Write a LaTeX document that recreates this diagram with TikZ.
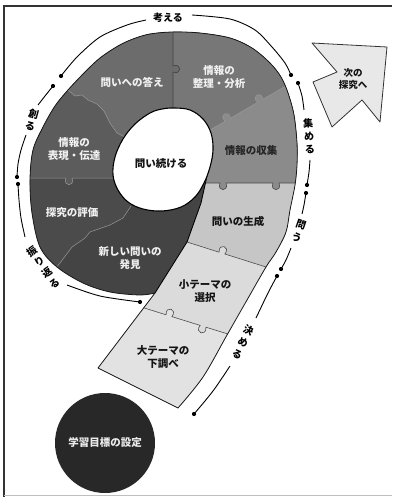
\documentclass[tikz,border=0pt]{standalone}
\usepackage{fontspec}
\setmainfont{Noto Sans CJK JP}
\usetikzlibrary{calc}
\definecolor{cPone}{HTML}{6C6C6C}
\definecolor{cPtwo}{HTML}{777777}
\definecolor{cPthree}{HTML}{8B8B8B}
\definecolor{cPseven}{HTML}{5C5C5C}
\definecolor{cPeight}{HTML}{4B4B4B}
\definecolor{cPnine}{HTML}{444444}
\definecolor{cTone}{HTML}{C6C6C6}
\definecolor{cTtwo}{HTML}{DBDBDB}
\definecolor{cTthree}{HTML}{E2E2E2}
\definecolor{cCirc}{HTML}{282828}
\definecolor{cArrow}{HTML}{E8E8E8}
\definecolor{framec}{HTML}{333333}
\def\outerpath{(98,368) -- (155,293) -- plot[smooth,tension=0.55] coordinates {(155,293) (140,295) (110,292) (83,283) (57,267) (40,247) (32,213) (30,180) (33,150) (43,127) (55,106) (68,90) (85,72) (100,58) (118,46) (133,39) (150,34) (173,32) (200,33) (230,38) (252,48) (270,63) (281,77) (288,93) (294,115) (297,143) (297,165) (295,185) (290,210) (286,232) (276,252) (266,267) (247,300) (227,335) (203,377) (178,408)} -- cycle}
\def\holepath{plot[smooth cycle,tension=0.6] coordinates {(175,108) (190,110) (203,119) (211,133) (213,150) (210,167) (204,183) (195,197) (181,207) (162,211) (143,209) (128,202) (118,190) (113,175) (115,157) (123,139) (135,124) (150,113) (162,109)}}
\def\Bone{-- (173,118) -- (173,72) to[knobR] (173,66) -- (173,0)}
\def\Btwo{-- (210,130) -- (225.2,121.2) to[knobL] (230.4,118.2) -- (257.7,102.3) to[knobL] (262.9,99.3) -- (284,87) -- (320,66)}
\def\Bthree{-- (400,183) -- (279,183) to[knobL] (273,183) -- (226,183) to[knobL] (220,183) -- (205,183)}
\def\Bfour{-- (187,242) -- (219.1,252.2) to[knobL] (224.9,254.0) -- (266,267) -- (305,279)}
\def\Bfive{-- (125,302) -- (166.1,314.8) to[knobL] (171.9,316.6) -- (200.1,325.4) to[knobR] (205.9,327.2) -- (228,334) -- (265,345)}
\def\Bsix{-- (131,206) -- (123,218) -- (110,225) -- (90,232) -- (85,238) -- (72,247) -- (60,263) -- (40,287)}
\def\Bseven{-- (116,178) -- (72,178) to[knobL] (66,178) -- (0,178)}
\def\Beight{-- (125,137) -- (117,133) -- (110,123) -- (104,111) -- (97,104) -- (88,100) -- (82,95) -- (75,96) -- (68,90) -- (40,66)}
\def\Tedge{-- (207,176) -- (201,203) -- (187,242) -- (155,293)}
\begin{document}
\begin{tikzpicture}[x=1pt,y=-1pt,
  knobL/.style={to path={.. controls ($(\tikztostart)!-0.6!(\tikztotarget)+(\tikztostart)!1.5!90:(\tikztotarget)-(\tikztostart)$) and ($(\tikztotarget)!-0.6!(\tikztostart)+(\tikztotarget)!1.5!-90:(\tikztostart)-(\tikztotarget)$) .. (\tikztotarget)}},
  knobR/.style={to path={.. controls ($(\tikztostart)!-0.6!(\tikztotarget)+(\tikztostart)!1.5!-90:(\tikztotarget)-(\tikztostart)$) and ($(\tikztotarget)!-0.6!(\tikztostart)+(\tikztotarget)!1.5!90:(\tikztostart)-(\tikztotarget)$) .. (\tikztotarget)}},
  bline/.style={draw=white!60!black, line width=0.5pt},
  bdark/.style={draw=black!75, line width=0.6pt},
  tline/.style={draw=black!70, line width=0.6pt},
  piecetext/.style={font=\bfseries\fontsize{10.5}{12.5}\selectfont, align=center, inner sep=0pt},
  wtxt/.style={piecetext, text=white!94!black},
  dtxt/.style={piecetext, text=black!85},
  btxt/.style={piecetext, text=black!92},
  alabel/.style={font=\bfseries\fontsize{10}{13}\selectfont, align=center, inner sep=0.5pt, text=black},
  arcline/.style={draw=black, line width=0.9pt},
  dotr/.style={fill=black}
]
\useasboundingbox (0,0) rectangle (392,497);
% frame
\draw[framec, line width=1.6pt, line join=miter] (392,6) -- (4,6) -- (4,497);
\draw[black!25, line width=0.6pt] (4,495.5) -- (392,495.5);

% ring and tail pieces
\begin{scope}
\clip \outerpath;
\fill[cPnine] (0,0) rectangle (400,500);
\fill[cTone] (207,176) \Tedge -- (98,368) -- (60,420) -- (250,520) -- (400,400) -- (400,176) -- cycle;
\fill[cTtwo] (187,242) \Bfour -- (400,290) -- (400,520) -- (60,420) -- (98,368) -- (155,293) -- cycle;
\fill[cTthree] (125,302) \Bfive -- (320,380) -- (250,520) -- (60,420) -- cycle;
\fill[cPeight] (163,160) \Bsix -- (0,300) -- (0,0) -- (400,0) -- (400,150) -- cycle;
\fill[cPseven] (163,160) \Bseven -- (0,0) -- (400,0) -- (400,150) -- cycle;
\fill[cPone] (163,160) \Beight -- (0,40) -- (0,0) -- (400,0) -- (400,150) -- cycle;
\fill[cPtwo] (163,160) \Bone -- (400,0) -- (400,150) -- cycle;
\fill[cPthree] (163,160) \Btwo -- (400,66) \Bthree -- cycle;
\draw[bline] (131,206) \Bsix;
\draw[bline] (116,178) \Bseven;
\draw[bline] (125,137) \Beight;
\draw[bline] (210,130) \Btwo;
\draw[bdark] (173,118) \Bone;
\draw[tline] (400,183) \Bthree;
\draw[tline] (187,242) \Bfour;
\draw[tline] (125,302) \Bfive;
\draw[black, line width=0.9pt] (207,176) \Tedge;
\filldraw[fill=white, draw=black, line width=1.1pt] \holepath;
\end{scope}
\draw[black!90, line width=0.8pt, line join=round] \outerpath;

% piece labels
\node[wtxt] (nKotae) at (132,82) {問いへの答え};
\node[wtxt] (nSeiri) at (219,77) {情報の\\整理・分析};
\node[dtxt] (nShushu) at (251,151) {情報の収集};
\node[wtxt] (nHyogen) at (74,149) {情報の\\表現・伝達};
\node[wtxt] (nHyoka) at (72,213) {探究の評価};
\node[wtxt] (nHakken) at (130,258) {新しい問いの\\発見};
\node[btxt] (nTsuzuke) at (161,164) {問い続ける};
\node[btxt] (nSeisei) at (238,221) {問いの生成};
\node[btxt] (nSentaku) at (205,291) {小テーマの\\選択};
\node[btxt] (nShirabe) at (163,357) {大テーマの\\下調べ};

% goal circle
\node[circle, fill=cCirc, minimum size=100pt, inner sep=0pt, text=white!92!black, font=\bfseries\fontsize{10.5}{12.5}\selectfont] (goal) at (105,443) {学習目標の設定};

% next arrow
\filldraw[fill=cArrow, draw=black!80, line width=0.8pt, line join=round] (312,43) -- (387,47) -- (380,122) -- (362,100) -- (332,127) -- (313,82) -- (337,72) -- cycle;
\node[btxt, font=\bfseries\fontsize{9.5}{11.5}\selectfont] (nextT) at (353,79) {次の\\探究へ};

% annotation labels
\node[alabel] (lKangaeru) at (168,18) {考える};
\node[alabel, rotate=-15] (lTsukuru) at (32,120) {創\\る};
\node[alabel, rotate=35] (lFurikaeru) at (43,267) {振\\り\\返\\る};
\node[alabel, rotate=4] (lAtsumeru) at (309,136) {集\\め\\る};
\node[alabel, rotate=-19] (lTou) at (299,231) {問\\う};
\node[alabel, rotate=-26] (lKimeru) at (243,342) {決\\め\\る};

% dots
\coordinate (d1) at (61,76);
\coordinate (d2) at (53,86);
\coordinate (d3) at (17,177);
\coordinate (d4) at (18,184);
\coordinate (d5) at (140,302);
\coordinate (d6) at (291,75);
\coordinate (d7) at (298,83);
\coordinate (d8) at (307,185);
\coordinate (d9) at (306,193);
\coordinate (d10) at (281,269);
\coordinate (d11) at (277,276);
\coordinate (d12) at (194,414);
% arc ends at labels
\coordinate (k1) at (146,20);
\coordinate (k2) at (192,15);
\coordinate (k3) at (38,105);
\coordinate (k4) at (26,135);
\coordinate (k5) at (25,237);
\coordinate (k6) at (67,285);
\coordinate (k7) at (304,110);
\coordinate (k8) at (310,160);
\coordinate (k9) at (302,214);
\coordinate (k10) at (291,248);
\coordinate (k11) at (256,318);
\coordinate (k12) at (230,366);

\draw[arcline] plot[smooth] coordinates {(d1) (77,57) (100,37) (127,25) (k1)};
\draw[arcline] plot[smooth] coordinates {(k2) (230,19) (255,30) (272,47) (285,63) (d6)};
\draw[arcline] plot[smooth] coordinates {(d2) (45,96) (k3)};
\draw[arcline] plot[smooth] coordinates {(k4) (21,150) (18,164) (d3)};
\draw[arcline] plot[smooth] coordinates {(d4) (19,200) (21,218) (k5)};
\draw[arcline] plot[smooth] coordinates {(k6) (100,296) (d5)};
\draw[arcline] plot[smooth] coordinates {(d7) (302,96) (k7)};
\draw[arcline] plot[smooth] coordinates {(k8) (309,172) (d8)};
\draw[arcline] plot[smooth] coordinates {(d9) (304,205) (k9)};
\draw[arcline] plot[smooth] coordinates {(k10) (286,260) (d10)};
\draw[arcline] plot[smooth] coordinates {(d11) (268,293) (k11)};
\draw[arcline] plot[smooth] coordinates {(k12) (213,391) (d12)};

\foreach \d in {d1,d2,d3,d4,d5,d6,d7,d8,d9,d10,d11,d12}
  \fill[dotr] (\d) circle (2.1);
\end{tikzpicture}
\end{document}
